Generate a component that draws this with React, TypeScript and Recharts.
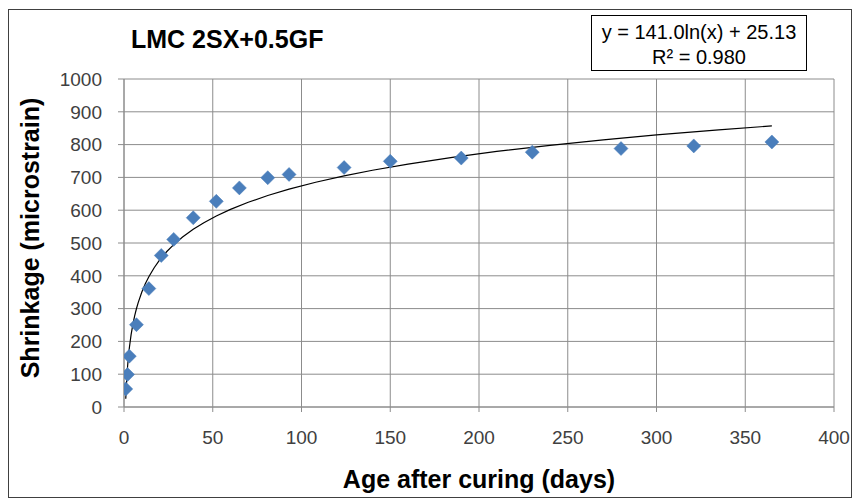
import React from 'react';
import { ScatterChart, Scatter, XAxis, YAxis, CartesianGrid } from 'recharts';

const ageDays = [1, 2, 3, 7, 14, 21, 28, 39, 52, 65, 81, 93, 124, 150, 190, 230, 280, 321, 365];
const shrinkage = [55, 99, 155, 251, 361, 462, 511, 577, 627, 668, 699, 709, 730, 749, 759, 777, 788, 796, 808];
const xTicks = [0, 50, 100, 150, 200, 250, 300, 350, 400];
const yTicks = [0, 100, 200, 300, 400, 500, 600, 700, 800, 900, 1000];
// Trendline as shown on the chart: y = 141.0 ln(x) + 25.13
const trendSlope = 141.0;
const trendIntercept = 25.13;
const trendX = [1, 1.3, 1.7, 2, 2.5, 3, 4, 5, 6, 7, 8, 10, 12, 14, 17, 20, 24, 28, 33, 39, 45, 52, 60, 70, 81, 93, 108, 124, 140, 160, 185, 210, 240, 270, 300, 335, 365];

const points = ageDays.map((x, i) => ({ x, y: shrinkage[i] }));
const trend = trendX.map((x) => ({ x, y: trendSlope * Math.log(x) + trendIntercept }));

const FONT = '"Liberation Sans", Arial, sans-serif';

const Diamond = (props: any) => {
  const { cx, cy } = props;
  const r = 7;
  return (
    <polygon
      points={`${cx},${cy - r} ${cx + r},${cy} ${cx},${cy + r} ${cx - r},${cy}`}
      fill="#4a7ebb"
      stroke="#4a7ebb"
      strokeWidth={0.5}
    />
  );
};

const NoShape = () => <g />;

export default function App() {
  return (
    <div style={{ position: 'absolute', left: 0, top: 0, width: 856, height: 502, background: '#fff' }}>
      <ScatterChart
        width={856}
        height={502}
        margin={{ top: 79, right: 22, bottom: 35, left: 0 }}
      >
        <CartesianGrid stroke="#8c8c8c" strokeWidth={1} />
        <XAxis
          type="number"
          dataKey="x"
          domain={[0, 400]}
          ticks={xTicks}
          interval={0}
          height={60}
          tickSize={5}
          tickMargin={19}
          stroke="#8c8c8c"
          tick={{ fill: '#404040', fontSize: 19, fontFamily: FONT }}
          allowDataOverflow
        />
        <YAxis
          type="number"
          dataKey="y"
          domain={[0, 1000]}
          ticks={yTicks}
          interval={0}
          width={124}
          tickSize={6}
          tickMargin={16}
          stroke="#8c8c8c"
          tick={{ fill: '#404040', fontSize: 19, fontFamily: FONT }}
          allowDataOverflow
        />
        <Scatter
          data={trend}
          line={{ stroke: '#000', strokeWidth: 1.2 }}
          lineType="joint"
          shape={NoShape}
          isAnimationActive={false}
        />
        <Scatter data={points} shape={Diamond} isAnimationActive={false} />
      </ScatterChart>
      <svg
        width={856}
        height={502}
        style={{ position: 'absolute', left: 0, top: 0, pointerEvents: 'none' }}
      >
        <rect x={8.5} y={9.5} width={843} height={488} fill="none" stroke="#404040" strokeWidth={1} />
        <text x={131} y={48} fontFamily={FONT} fontSize={25} fontWeight="bold" fill="#000">
          LMC 2SX+0.5GF
        </text>
        <rect x={591.5} y={15.5} width={215} height={55} fill="#fff" stroke="#000" strokeWidth={1} />
        <text x={699} y={39} textAnchor="middle" fontFamily={FONT} fontSize={20} fill="#000">
          y = 141.0ln(x) + 25.13
        </text>
        <text x={699} y={64} textAnchor="middle" fontFamily={FONT} fontSize={20} fill="#000">
          R² = 0.980
        </text>
        <text x={479} y={488} textAnchor="middle" fontFamily={FONT} fontSize={25} fontWeight="bold" fill="#000">
          Age after curing (days)
        </text>
        <text
          x={39}
          y={238}
          textAnchor="middle"
          fontFamily={FONT}
          fontSize={25}
          fontWeight="bold"
          fill="#000"
          transform="rotate(-90 39 238)"
        >
          Shrinkage (microstrain)
        </text>
      </svg>
    </div>
  );
}
